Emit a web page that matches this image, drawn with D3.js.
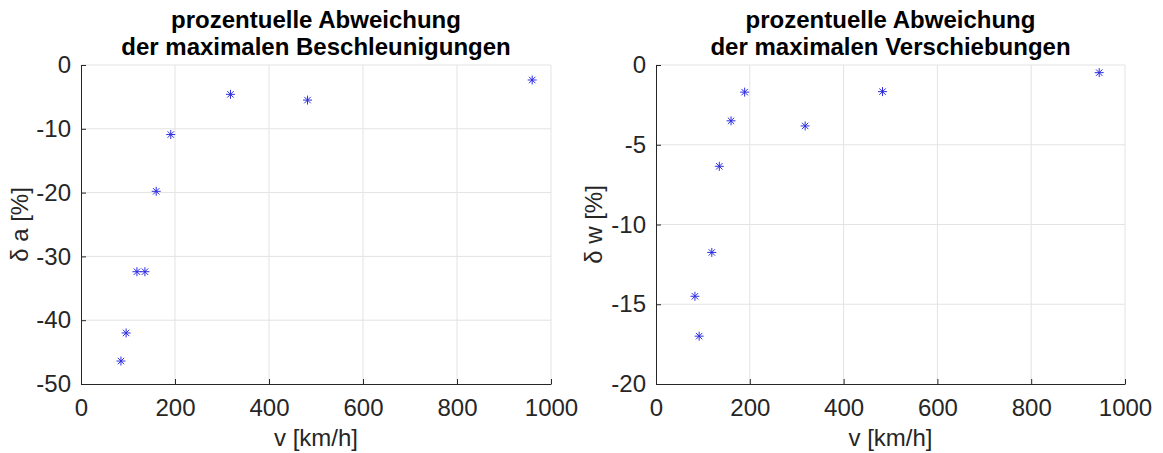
<!DOCTYPE html>
<html>
<head>
<meta charset="utf-8">
<script src="https://cdn.jsdelivr.net/npm/d3@7"></script>
<style>
  body { margin: 0; background: #fff; }
  text { font-family: "Liberation Sans", Arial, sans-serif; }
</style>
</head>
<body>
<svg width="1163" height="453"></svg>
<script>
// left panel: accelerations
var vAcc = [85, 96, 119, 136, 160, 191, 318, 482, 960]
var dAcc = [-46.4, -42.0, -32.4, -32.4, -19.8, -10.9, -4.6, -5.5, -2.35]
// right panel: displacements
var vDisp = [83, 92, 119, 135, 160, 189, 318, 483, 945]
var dDisp = [-14.5, -17.0, -11.75, -6.35, -3.5, -1.7, -3.82, -1.67, -0.48]

var xTicks = [0, 200, 400, 600, 800, 1000]
var yTicksAcc = [0, -10, -20, -30, -40, -50]
var yTicksDisp = [0, -5, -10, -15, -20]

var svg = d3.select("svg")

var panels = [
  { left: 81, right: 551, title: ["prozentuelle Abweichung", "der maximalen Beschleunigungen"],
    ylabel: "\u03b4 a [%]", ylabelX: 20, xs: vAcc, ys: dAcc, yDomain: [-50, 0], yTicks: yTicksAcc },
  { left: 656, right: 1125, title: ["prozentuelle Abweichung", "der maximalen Verschiebungen"],
    ylabel: "\u03b4 w [%]", ylabelX: 594, xs: vDisp, ys: dDisp, yDomain: [-20, 0], yTicks: yTicksDisp }
]
var plotTop = 65, plotBottom = 384

panels.forEach(function(p) {
  var x = d3.scaleLinear().domain([0, 1000]).range([p.left, p.right])
  var y = d3.scaleLinear().domain(p.yDomain).range([plotBottom, plotTop])
  var g = svg.append("g")

  // grid
  g.append("g").selectAll("line")
    .data(xTicks.slice(1))
    .enter().append("line")
    .attr("x1", d => x(d)).attr("x2", d => x(d))
    .attr("y1", plotTop).attr("y2", plotBottom)
    .style("stroke", "#e3e3e3").style("stroke-width", 1)
  g.append("g").selectAll("line")
    .data(p.yTicks.filter(d => d != p.yDomain[0]))
    .enter().append("line")
    .attr("x1", p.left).attr("x2", p.right)
    .attr("y1", d => y(d)).attr("y2", d => y(d))
    .style("stroke", "#e3e3e3").style("stroke-width", 1)

  // axes (MATLAB style: ticks inside)
  var fmt = d => String(d)
  var xAxis = d3.axisBottom(x).tickValues(xTicks).tickFormat(fmt).tickSizeInner(-5).tickSizeOuter(0).tickPadding(15)
  var yAxis = d3.axisLeft(y).tickValues(p.yTicks).tickFormat(fmt).tickSizeInner(-5).tickSizeOuter(0).tickPadding(10)
  var gx = g.append("g").attr("transform", "translate(0," + plotBottom + ")").call(xAxis)
  var gy = g.append("g").attr("transform", "translate(" + p.left + ",0)").call(yAxis)
  ;[gx, gy].forEach(function(a) {
    a.selectAll("path, line").style("stroke", "#262626")
    a.selectAll("text").style("font-size", "24px").style("fill", "#262626")
      .style("font-family", "Liberation Sans, Arial, sans-serif")
  })
  gx.selectAll("text").attr("dy", "0.71em")

  // labels
  g.append("text")
    .attr("x", (p.left + p.right) / 2).attr("y", 446)
    .attr("text-anchor", "middle")
    .style("font-size", "24px").style("fill", "#262626")
    .text("v [km/h]")
  g.append("text")
    .attr("transform", "translate(" + p.ylabelX + "," + (plotTop + plotBottom) / 2 + ") rotate(-90)")
    .attr("text-anchor", "middle").attr("dy", "0.35em")
    .style("font-size", "24px").style("fill", "#262626")
    .text(p.ylabel)

  // title
  g.append("text")
    .attr("x", (p.left + p.right) / 2)
    .attr("text-anchor", "middle")
    .style("font-size", "24px").style("font-weight", "bold").style("fill", "#000")
    .selectAll("tspan")
    .data(p.title)
    .enter().append("tspan")
    .attr("x", (p.left + p.right) / 2)
    .attr("y", (d, i) => 28 + i * 27)
    .text(d => d)

  // asterisk markers
  var pts = p.xs.map((v, i) => [v, p.ys[i]])
  var m = g.append("g").selectAll("g")
    .data(pts)
    .enter().append("g")
    .attr("transform", d => "translate(" + x(d[0]) + "," + y(d[1]) + ")")
  var r = 4.5, q = 3.2
  var arms = [[-r, 0, r, 0], [0, -r, 0, r], [-q, -q, q, q], [-q, q, q, -q]]
  arms.forEach(function(a) {
    m.append("line")
      .attr("x1", a[0]).attr("y1", a[1]).attr("x2", a[2]).attr("y2", a[3])
      .style("stroke", "#2d2de0").style("stroke-width", 1)
  })
})
</script>
</body>
</html>
